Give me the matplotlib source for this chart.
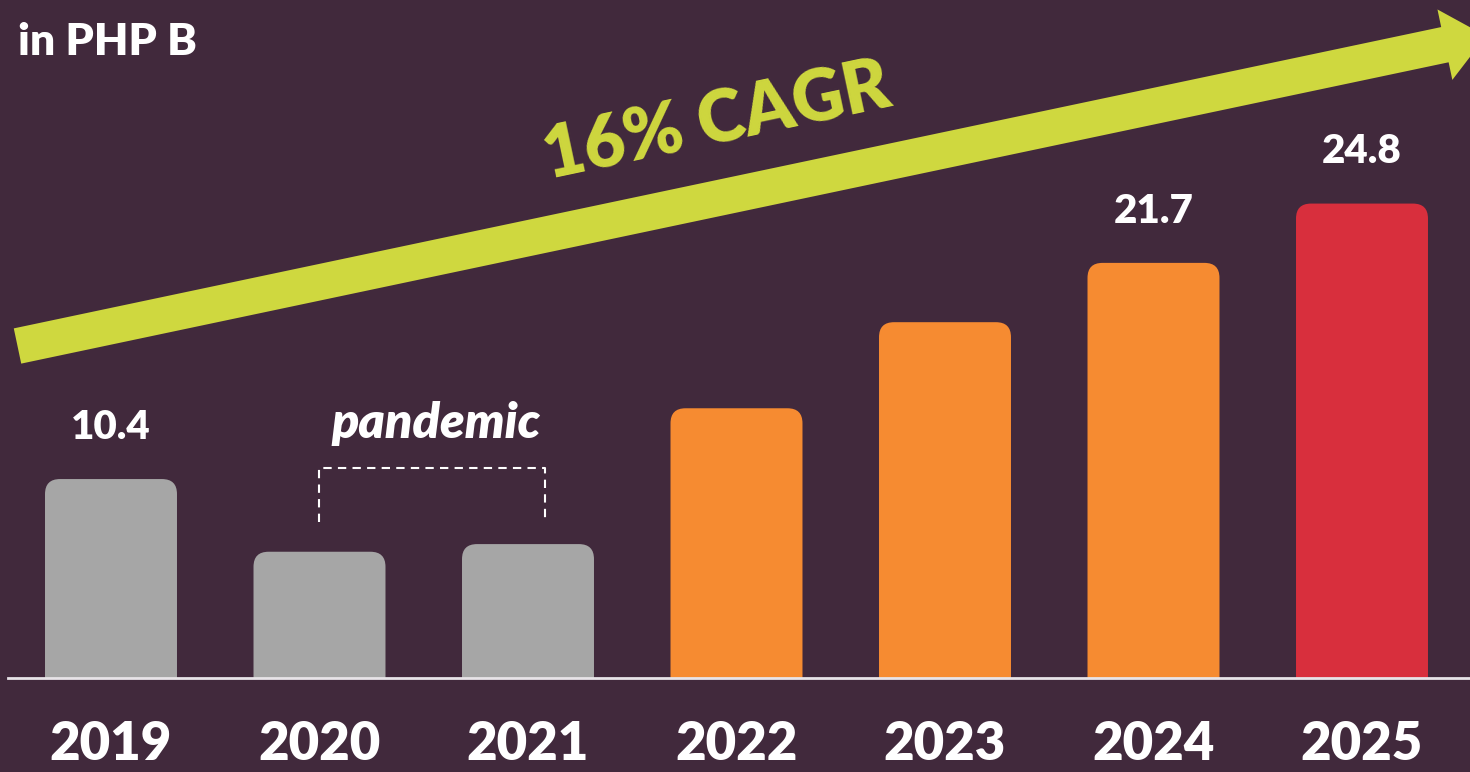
import matplotlib.pyplot as plt
from matplotlib.patches import FancyBboxPatch, FancyArrow

# datos
years = ["2019", "2020", "2021", "2022", "2023", "2024", "2025"]
values = [10.4, 6.6, 7.0, 14.1, 18.6, 21.7, 24.8]
value_labels = ["10.4", "", "", "", "", "21.7", "24.8"]
bar_colors = ["#A6A6A6", "#A6A6A6", "#A6A6A6", "#F68B31", "#F68B31", "#F68B31", "#D82F3D"]

bg = "#41293C"
lime = "#CFD83F"
fuente = "Lato"

fig = plt.figure(figsize=(14.7, 7.72), dpi=100, facecolor=bg)

# eje principal de barras
ax = fig.add_axes([8 / 1470, 94 / 772, 1 - 8 / 1470, 678 / 772])
ax.set_facecolor("none")
ax.set_xlim(-0.494, 6.518)
ax.set_ylim(0, 678 / 19.13)

w = 0.633
r = 15 / 208.5
for i, (v, c) in enumerate(zip(values, bar_colors)):
    p = FancyBboxPatch((i - w / 2, -3), w, v + 3,
                       boxstyle=f"round,pad=0,rounding_size={r}",
                       mutation_aspect=208.5 / 19.13,
                       facecolor=c, edgecolor="none", clip_on=True)
    ax.add_patch(p)
    if value_labels[i]:
        ax.text(i, v + 2.7, value_labels[i], ha="center", va="center",
                color="white", fontsize=29, fontweight="heavy", family=fuente)

for s in ["top", "right", "left"]:
    ax.spines[s].set_visible(False)
ax.spines["bottom"].set_color("#E8E4E8")
ax.spines["bottom"].set_linewidth(2)
ax.set_yticks([])
ax.set_xticks(range(len(years)))
ax.set_xticklabels(years, color="white", fontsize=38, fontweight="heavy", family=fuente)
ax.tick_params(axis="x", length=0, pad=30)

# corchete de la pandemia
ax.plot([1.0, 1.0, 2.08, 2.08], [(678 - 522) / 19.13, (678 - 468) / 19.13,
                                 (678 - 468) / 19.13, (678 - 522) / 19.13],
        color="white", lw=1.5, ls=(0, (4, 3)))
ax.text(1.56, (678 - 423) / 19.13, "pandemic", ha="center", va="center",
        color="white", fontsize=36, fontweight="heavy", style="italic", family=fuente)

# capa de decoracion en pixeles
ov = fig.add_axes([0, 0, 1, 1])
ov.set_xlim(0, 1470)
ov.set_ylim(772, 0)
ov.axis("off")
ov.set_facecolor("none")

arr = FancyArrow(17.5, 346, 1468.5, -310, width=36, head_width=72, head_length=42,
                 length_includes_head=True, color=lime, lw=0)
ov.add_patch(arr)
ov.text(717, 122, "16% CAGR", rotation=12, ha="center", va="center",
        color=lime, fontsize=51, fontweight="heavy", family=fuente,
        rotation_mode="anchor")
ov.text(18, 42, "in PHP B", ha="left", va="center", color="white",
        fontsize=32, fontweight="heavy", family=fuente)

fig.savefig("out.png", dpi=100, facecolor=bg)
